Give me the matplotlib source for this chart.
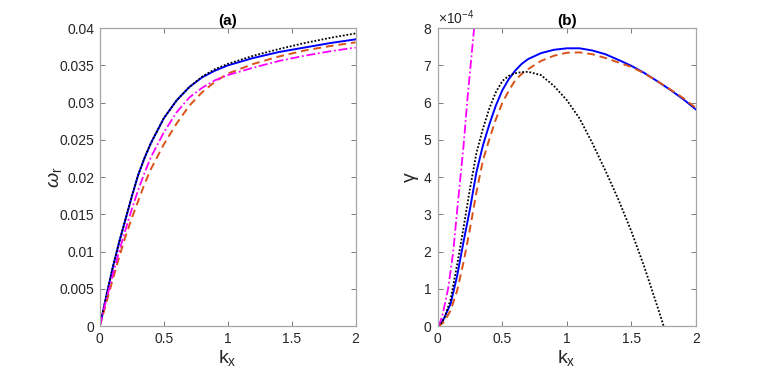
import numpy as np
import matplotlib
matplotlib.use("Agg")
import matplotlib.pyplot as plt
from matplotlib.ticker import ScalarFormatter

plt.rcParams["font.family"] = ["Liberation Sans", "DejaVu Sans"]
plt.rcParams["mathtext.fontset"] = "custom"
plt.rcParams["mathtext.rm"] = "Liberation Sans"
plt.rcParams["mathtext.it"] = "Liberation Sans:italic"

# ---- panel (a): real frequency omega_r vs k_x ----
k_a = [0, 0.05, 0.1, 0.15, 0.2, 0.25, 0.3, 0.35, 0.4, 0.5, 0.6, 0.7, 0.8, 0.9,
       1.0, 1.2, 1.4, 1.6, 1.8, 2.0]
wr_blue = [0, 0.0040, 0.0078, 0.0112, 0.0143, 0.0174, 0.0203, 0.0226, 0.0246,
           0.0279, 0.0303, 0.0321, 0.0334, 0.0343, 0.0350, 0.0360, 0.0368,
           0.0374, 0.0380, 0.0385]
wr_black = [0, 0.0040, 0.0078, 0.0112, 0.0143, 0.0174, 0.0203, 0.0226, 0.0246,
            0.0279, 0.0303, 0.0321, 0.0335, 0.0345, 0.0352, 0.0363, 0.0372,
            0.0380, 0.0387, 0.0393]
wr_red = [0, 0.0031, 0.0062, 0.0092, 0.0120, 0.0145, 0.0168, 0.0191, 0.0211,
          0.0244, 0.0272, 0.0296, 0.0314, 0.0328, 0.0339, 0.0352, 0.0362,
          0.0370, 0.0376, 0.0381]
wr_mag = [0, 0.0035, 0.0068, 0.0100, 0.0129, 0.0157, 0.0183, 0.0206, 0.0227,
          0.0260, 0.0287, 0.0307, 0.0320, 0.0330, 0.0337, 0.0347, 0.0356,
          0.0363, 0.0369, 0.0374]

# ---- panel (b): growth rate gamma vs k_x (gamma in units of 1e-4) ----
k_b = [0, 0.02, 0.05, 0.1, 0.15, 0.2, 0.25, 0.3, 0.35, 0.4, 0.45, 0.5, 0.55,
       0.6, 0.65, 0.7, 0.8, 0.9, 1.0, 1.1, 1.2, 1.3, 1.4, 1.5, 1.6, 1.7, 1.8,
       1.9, 2.0]
g_blue = [0, 0.05, 0.22, 0.60, 1.35, 2.27, 3.15, 4.14, 4.85, 5.42, 5.92, 6.33,
          6.63, 6.86, 7.04, 7.17, 7.33, 7.42, 7.46, 7.46, 7.40, 7.30, 7.15, 6.99,
          6.80, 6.58, 6.35, 6.10, 5.82]
g_red = [0, 0.03, 0.12, 0.42, 0.95, 1.72, 2.62, 3.60, 4.45, 5.02, 5.55, 5.99,
         6.32, 6.60, 6.77, 6.90, 7.12, 7.26, 7.34, 7.35, 7.30, 7.20, 7.08, 6.96,
         6.79, 6.58, 6.36, 6.13, 5.86]
k_black = [0, 0.02, 0.05, 0.1, 0.15, 0.2, 0.25, 0.3, 0.35, 0.4, 0.45, 0.5, 0.55,
           0.6, 0.65, 0.7, 0.8, 0.9, 1.0, 1.1, 1.2, 1.3, 1.4, 1.5, 1.6, 1.7, 1.76]
g_black = [0, 0.05, 0.20, 0.72, 1.65, 2.65, 3.70, 4.65, 5.30, 5.85, 6.28, 6.58,
           6.72, 6.79, 6.82, 6.83, 6.74, 6.45, 6.07, 5.57, 4.90, 4.17, 3.40,
           2.55, 1.60, 0.55, -0.1]
k_mag = [0, 0.02, 0.04, 0.08, 0.12, 0.15, 0.18, 0.2, 0.23, 0.26, 0.29, 0.3]
g_mag = [0, 0.12, 0.35, 1.0, 2.0, 3.1, 4.15, 4.85, 6.1, 7.2, 8.3, 8.7]
gscale = 1e-4

c_blue = (0, 0, 1)
c_red = (0.85, 0.325, 0.098)
c_mag = (1, 0, 1)
axcol = "0.15"

fig = plt.figure(figsize=(7.68, 3.71), dpi=100)
ax_a = fig.add_axes([0.130, 0.121, 0.333, 0.803])
ax_b = fig.add_axes([0.570, 0.121, 0.336, 0.803])

for ax in (ax_a, ax_b):
    for s in ax.spines.values():
        s.set_color("0.65")
        s.set_linewidth(0.9)
    ax.tick_params(direction="in", top=True, right=True, length=3.5, width=0.6,
                   color="0.4", labelsize=10, labelcolor=axcol, pad=4)
    ax.set_xlim(0, 2)
    ax.set_xticks([0, 0.5, 1, 1.5, 2])
    ax.set_xticklabels(["0", "0.5", "1", "1.5", "2"])
    ax.set_xlabel("k$_\\mathregular{x}$", fontsize=14, color=axcol, labelpad=2)

# panel (a)
ax_a.plot(k_a, wr_blue, color=c_blue, lw=1.4, ls="-")
ax_a.plot(k_a, wr_red, color=c_red, lw=1.4, ls=(0, (4, 2.5)))
ax_a.plot(k_a, wr_black, color="k", lw=1.3, ls=(0, (1, 1)))
ax_a.plot(k_a, wr_mag, color=c_mag, lw=1.3, ls=(0, (5, 1.5, 1, 1.5)))
ax_a.set_ylim(0, 0.04)
yt = np.arange(0, 0.0401, 0.005)
ax_a.set_yticks(yt)
ax_a.set_yticklabels(["%g" % round(v, 3) for v in yt])
ax_a.set_ylabel("$\\omega_\\mathregular{r}$", fontsize=14, color=axcol, labelpad=-3)
ax_a.set_title("(a)", fontsize=11, fontweight="bold", color="k", pad=2)

# panel (b)
ax_b.plot(k_b, np.array(g_blue) * gscale, color=c_blue, lw=1.4, ls="-")
ax_b.plot(k_b, np.array(g_red) * gscale, color=c_red, lw=1.4, ls=(0, (4, 2.5)))
ax_b.plot(k_black, np.array(g_black) * gscale, color="k", lw=1.3, ls=(0, (1, 1)))
ax_b.plot(k_mag, np.array(g_mag) * gscale, color=c_mag, lw=1.3,
          ls=(0, (5, 1.5, 1, 1.5)))
ax_b.set_ylim(0, 8e-4)
ax_b.set_yticks(np.arange(0, 8.01e-4, 1e-4))
fmt = ScalarFormatter(useMathText=True)
fmt.set_powerlimits((-4, -4))
ax_b.yaxis.set_major_formatter(fmt)
ax_b.yaxis.get_offset_text().set_fontsize(10)
ax_b.yaxis.get_offset_text().set_color(axcol)
ax_b.set_ylabel("\u03b3", fontsize=14, color=axcol, labelpad=3)
ax_b.set_title("(b)", fontsize=11, fontweight="bold", color="k", pad=2)

fig.savefig("out.png", dpi=100)
